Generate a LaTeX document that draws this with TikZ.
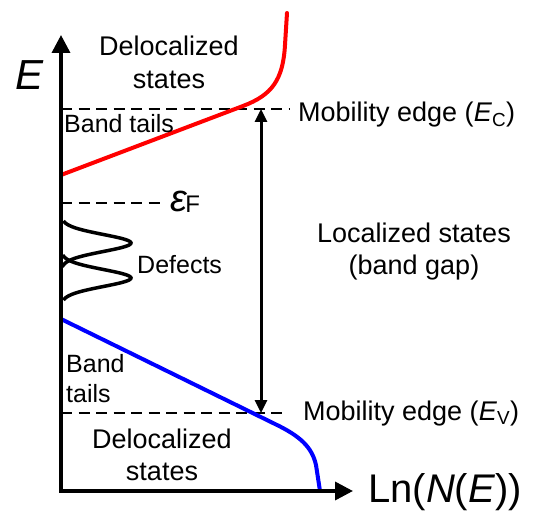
\documentclass[tikz,border=0pt]{standalone}
\usepackage{fontspec}
\setmainfont{Liberation Sans}
\usetikzlibrary{arrows.meta}
\tikzset{
  lbl/.style={inner sep=0pt, anchor=base},
  lblw/.style={inner sep=0pt, anchor=base west},
  axisline/.style={line width=3.5pt, line join=miter, {Triangle[length=18pt,width=18pt]}-{Triangle[length=18pt,width=18pt]}},
  edgeline/.style={line width=2.4pt, dash pattern=on 11pt off 6.5pt},
  gaparrow/.style={line width=3pt, {Triangle[length=13pt,width=12pt]}-{Triangle[length=13pt,width=12pt]}},
  dos/.style={line width=4pt, line cap=round},
  defect/.style={line width=3.5pt}
}
\newcommand{\fsA}{\fontsize{27}{32}\selectfont}
\newcommand{\fsB}{\fontsize{25}{30}\selectfont}
\begin{document}
\begin{tikzpicture}[x=1pt,y=-1pt]
\useasboundingbox (0,0) rectangle (539,516);
% coordinates
\coordinate (O) at (61,491);
\coordinate (ytip) at (61,35);
\coordinate (xtip) at (353,491);
\coordinate (ecL) at (61,109);
\coordinate (ecR) at (290,109);
\coordinate (efL) at (61,203);
\coordinate (efR) at (166,203);
\coordinate (evL) at (61,413);
\coordinate (evR) at (287,413);
\coordinate (gapT) at (261,109);
\coordinate (gapB) at (261,413);
% dashed lines
\draw[edgeline] (ecL) -- (ecR);
\draw[edgeline] (efL) -- (efR);
\draw[edgeline] (evL) -- (evR);
% defects
\draw[defect] plot[domain=221:267, samples=60, smooth] ({61+70*exp(-(((\x-243)/12)^2))}, \x);
\draw[defect] plot[domain=255:300, samples=60, smooth] ({61+70*exp(-(((\x-278)/12)^2))}, \x);
% curves
\draw[dos, red] (61,175) -- (243,106) .. controls (272,95) and (283,80) .. (285,45) -- (287,13);
\draw[dos, blue] (61,319) -- (275,424) .. controls (300,436) and (312,447) .. (316,465) -- (320,491);
% axes
\draw[axisline] (ytip) -- (O) -- (xtip);
% gap arrow
\draw[gaparrow] (gapT) -- (gapB);
% labels
\node[lblw, font=\fontsize{42}{48}\selectfont\itshape] (Elab) at (15,90) {E};
\node[lblw, font=\fontsize{40}{46}\selectfont] (xlab) at (368,502) {Ln(\textit{N}(\textit{E}))};
\node[lbl, font=\fsA] (dtop1) at (169,56) {Delocalized};
\node[lbl, font=\fsA] (dtop2) at (169,89) {states};
\node[lblw, font=\fsB] (btop) at (64,133) {Band tails};
\node[lblw, font=\fsA] (mec) at (298,122) {Mobility edge (\textit{E}\textsubscript{C})};
\node[lblw, font=\fsA] (mev) at (303,420) {Mobility edge (\textit{E}\textsubscript{V})};
\node[lbl, font=\fsA] (loc1) at (414,243) {Localized states};
\node[lbl, font=\fsA] (loc2) at (414,275) {(band gap)};
\node[lblw, font=\fsB] (def) at (137,273) {Defects};
\node[lblw, font=\fsB] (bb1) at (66,373) {Band};
\node[lblw, font=\fsB] (bb2) at (66,402) {tails};
\node[lbl, font=\fsA] (dbot1) at (162,448) {Delocalized};
\node[lbl, font=\fsA] (dbot2) at (162,480) {states};
\node[lblw] (ef) at (170,212) {\fontsize{38}{42}\selectfont\textit{ε}\hspace{-2pt}\fontsize{24}{28}\selectfont\raisebox{-1pt}{F}};
\end{tikzpicture}
\end{document}
